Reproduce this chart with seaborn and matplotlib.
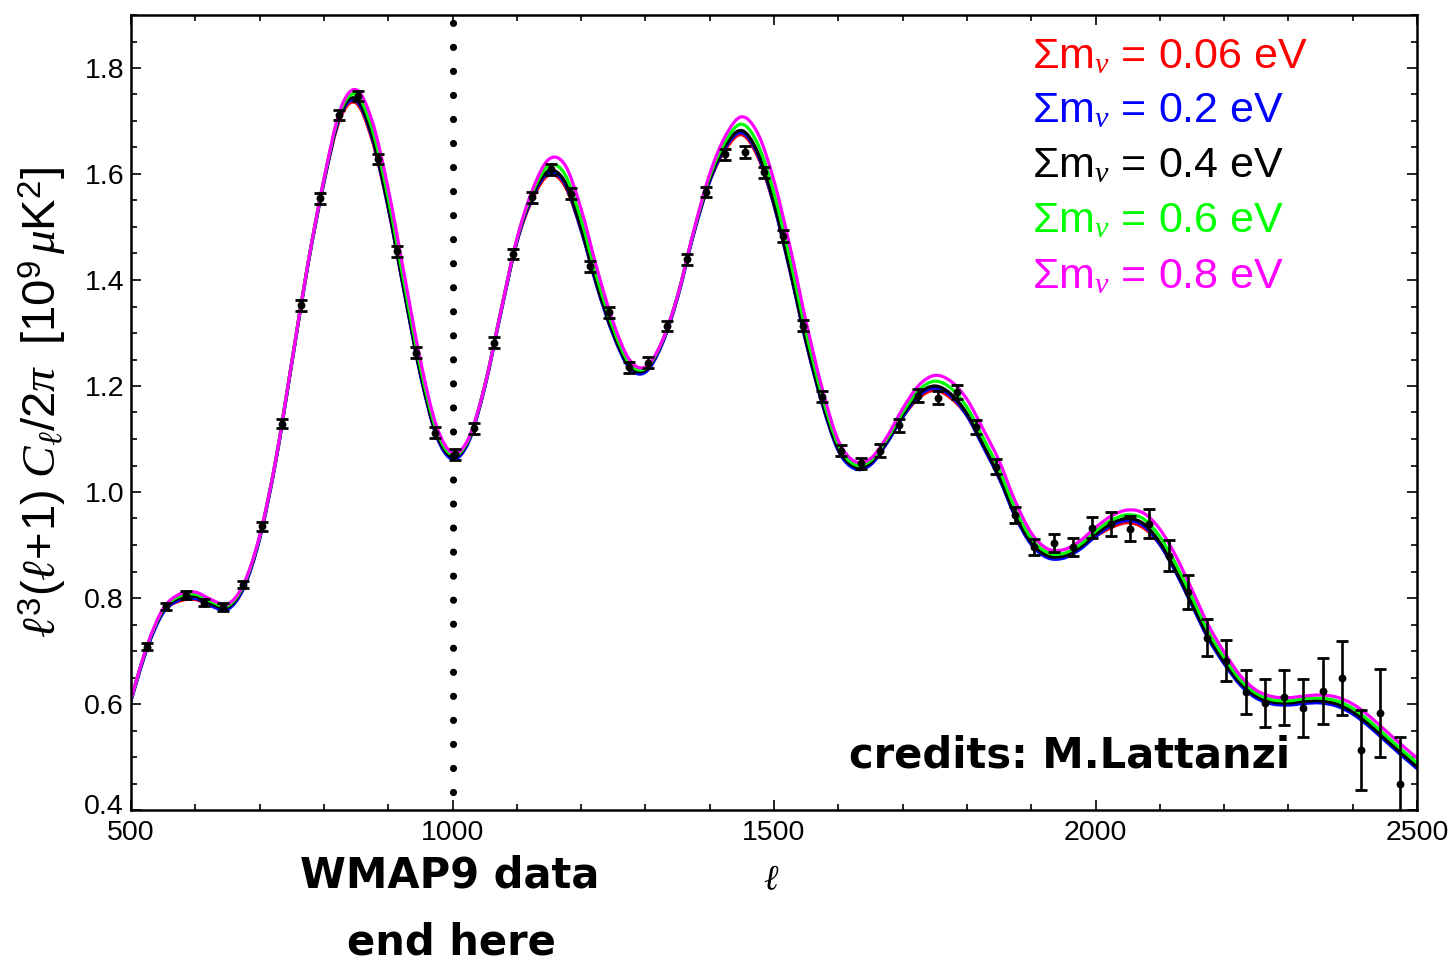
import numpy as np
import matplotlib
matplotlib.use("Agg")
import matplotlib.pyplot as plt
from matplotlib.path import Path
from matplotlib.patches import PathPatch
from matplotlib.ticker import MultipleLocator
from matplotlib.transforms import ScaledTranslation
import seaborn as sns

# ---------------- data ----------------
ell_grid = list(range(500, 2501, 25))

cl_006 = [0.608, 0.706, 0.774, 0.794, 0.797, 0.785, 0.780, 0.820, 0.913, 1.058,
          1.243, 1.428, 1.584, 1.704, 1.734, 1.664, 1.536, 1.378, 1.223, 1.108,
          1.064, 1.096, 1.198, 1.338, 1.471, 1.554, 1.598, 1.577, 1.494, 1.388,
          1.298, 1.236, 1.228, 1.278, 1.368, 1.488, 1.586, 1.647, 1.674, 1.632,
          1.541, 1.418, 1.283, 1.168, 1.080, 1.046, 1.053, 1.093, 1.141, 1.177,
          1.192, 1.177, 1.144, 1.088, 1.028, 0.956, 0.903, 0.878, 0.877, 0.893,
          0.916, 0.933, 0.942, 0.932, 0.901, 0.850, 0.788, 0.726, 0.678, 0.638,
          0.613, 0.602, 0.600, 0.603, 0.604, 0.598, 0.583, 0.560, 0.533, 0.506,
          0.480]

cl_02 = [0.606, 0.704, 0.772, 0.796, 0.799, 0.785, 0.778, 0.818, 0.911, 1.056,
         1.241, 1.426, 1.584, 1.708, 1.738, 1.668, 1.536, 1.376, 1.221, 1.106,
         1.062, 1.094, 1.196, 1.336, 1.471, 1.558, 1.602, 1.581, 1.494, 1.386,
         1.296, 1.234, 1.226, 1.276, 1.366, 1.486, 1.586, 1.651, 1.678, 1.636,
         1.541, 1.416, 1.281, 1.166, 1.078, 1.044, 1.051, 1.091, 1.141, 1.181,
         1.196, 1.181, 1.144, 1.086, 1.026, 0.954, 0.901, 0.876, 0.875, 0.891,
         0.916, 0.937, 0.946, 0.936, 0.901, 0.848, 0.786, 0.724, 0.676, 0.636,
         0.611, 0.600, 0.598, 0.601, 0.602, 0.596, 0.581, 0.558, 0.531, 0.504,
         0.478]

cl_04 = [0.610, 0.708, 0.776, 0.800, 0.803, 0.789, 0.782, 0.822, 0.915, 1.060,
         1.245, 1.430, 1.588, 1.712, 1.742, 1.672, 1.540, 1.380, 1.225, 1.110,
         1.066, 1.098, 1.200, 1.340, 1.475, 1.562, 1.606, 1.585, 1.498, 1.390,
         1.300, 1.238, 1.230, 1.280, 1.370, 1.490, 1.590, 1.655, 1.682, 1.640,
         1.545, 1.420, 1.285, 1.170, 1.082, 1.048, 1.055, 1.095, 1.145, 1.185,
         1.200, 1.185, 1.148, 1.090, 1.030, 0.958, 0.905, 0.880, 0.879, 0.895,
         0.920, 0.941, 0.950, 0.940, 0.905, 0.852, 0.790, 0.728, 0.680, 0.640,
         0.615, 0.604, 0.602, 0.605, 0.606, 0.600, 0.585, 0.562, 0.535, 0.508,
         0.482]

cl_06 = [0.610, 0.709, 0.778, 0.803, 0.807, 0.793, 0.785, 0.824, 0.916, 1.060,
         1.245, 1.430, 1.589, 1.716, 1.750, 1.685, 1.555, 1.393, 1.236, 1.117,
         1.070, 1.099, 1.200, 1.340, 1.476, 1.567, 1.616, 1.599, 1.514, 1.403,
         1.309, 1.243, 1.233, 1.281, 1.370, 1.491, 1.595, 1.663, 1.694, 1.656,
         1.564, 1.439, 1.301, 1.181, 1.089, 1.052, 1.059, 1.099, 1.150, 1.192,
         1.209, 1.196, 1.160, 1.103, 1.043, 0.969, 0.913, 0.886, 0.884, 0.900,
         0.926, 0.947, 0.957, 0.949, 0.916, 0.864, 0.802, 0.738, 0.688, 0.646,
         0.620, 0.608, 0.606, 0.610, 0.611, 0.606, 0.592, 0.569, 0.542, 0.515,
         0.489]

cl_08 = [0.610, 0.710, 0.780, 0.807, 0.811, 0.797, 0.788, 0.826, 0.917, 1.060,
         1.245, 1.430, 1.590, 1.720, 1.759, 1.700, 1.572, 1.410, 1.249, 1.125,
         1.074, 1.101, 1.200, 1.340, 1.477, 1.572, 1.628, 1.617, 1.534, 1.420,
         1.320, 1.250, 1.236, 1.282, 1.370, 1.492, 1.600, 1.673, 1.708, 1.676,
         1.587, 1.462, 1.321, 1.195, 1.097, 1.058, 1.063, 1.103, 1.157, 1.201,
         1.220, 1.209, 1.175, 1.119, 1.059, 0.983, 0.923, 0.893, 0.891, 0.907,
         0.933, 0.955, 0.966, 0.960, 0.930, 0.879, 0.816, 0.750, 0.698, 0.654,
         0.626, 0.614, 0.612, 0.615, 0.617, 0.613, 0.600, 0.578, 0.551, 0.524,
         0.498]

series_labels = ["0.06", "0.2", "0.4", "0.6", "0.8"]
series_colors = ["#ff0000", "#0000ff", "#000000", "#00ff00", "#ff00ff"]
series_values = [cl_006, cl_02, cl_04, cl_06, cl_08]

data_ell = [525, 554, 586, 614, 643, 674, 704, 735, 764, 794,
            823, 853, 884, 914, 943, 973, 1004, 1033, 1065, 1094,
            1124, 1153, 1184, 1214, 1243, 1274, 1304, 1334, 1365, 1394,
            1424, 1455, 1484, 1514, 1545, 1575, 1604, 1635, 1665, 1694,
            1724, 1755, 1785, 1814, 1845, 1875, 1904, 1935, 1965, 1994,
            2024, 2054, 2083, 2114, 2144, 2173, 2203, 2234, 2264, 2293,
            2323, 2354, 2383, 2413, 2442, 2474]
data_val = [0.708, 0.784, 0.806, 0.791, 0.783, 0.825, 0.935, 1.129, 1.352, 1.554,
            1.711, 1.747, 1.628, 1.454, 1.263, 1.112, 1.071, 1.120, 1.282, 1.449,
            1.556, 1.609, 1.563, 1.426, 1.339, 1.235, 1.244, 1.313, 1.439, 1.566,
            1.637, 1.641, 1.603, 1.483, 1.314, 1.180, 1.078, 1.054, 1.078, 1.126,
            1.182, 1.178, 1.188, 1.122, 1.048, 0.957, 0.897, 0.904, 0.897, 0.933,
            0.940, 0.931, 0.940, 0.880, 0.812, 0.725, 0.682, 0.623, 0.602, 0.613,
            0.593, 0.625, 0.649, 0.513, 0.583, 0.449]
data_err = [0.007, 0.007, 0.007, 0.007, 0.007, 0.007, 0.009, 0.009, 0.010, 0.010,
            0.010, 0.010, 0.010, 0.010, 0.010, 0.010, 0.010, 0.010, 0.010, 0.010,
            0.010, 0.010, 0.010, 0.010, 0.010, 0.010, 0.010, 0.010, 0.010, 0.010,
            0.011, 0.011, 0.011, 0.011, 0.011, 0.011, 0.011, 0.011, 0.012, 0.012,
            0.012, 0.012, 0.013, 0.013, 0.014, 0.015, 0.015, 0.017, 0.017, 0.020,
            0.023, 0.024, 0.027, 0.029, 0.032, 0.035, 0.038, 0.041, 0.046, 0.052,
            0.055, 0.062, 0.069, 0.076, 0.083, 0.088]

wmap_end = 1000
x_ticks = [500, 1000, 1500, 2000, 2500]
y_ticks = [0.4, 0.6, 0.8, 1.0, 1.2, 1.4, 1.6, 1.8]

# ---------------- style ----------------
sns.set_theme(style="ticks")
plt.rcParams["font.family"] = ["Liberation Sans", "DejaVu Sans"]
plt.rcParams["mathtext.fontset"] = "custom"
plt.rcParams["mathtext.rm"] = "Liberation Sans"
plt.rcParams["mathtext.it"] = "Liberation Serif:italic"
plt.rcParams["mathtext.bf"] = "Liberation Sans:bold"

fig = plt.figure(figsize=(14.49, 9.63), dpi=100)
ax = fig.add_axes([131 / 1449, 1 - 810 / 963, (1417 - 131) / 1449, (810 - 15) / 963])


def smooth_curve(ax, xs, ys, color, lw):
    xs = np.asarray(xs, float)
    ys = np.asarray(ys, float)
    n = len(xs)
    verts = [(xs[0], ys[0])]
    codes = [Path.MOVETO]
    for i in range(n - 1):
        a = i - 1 if i > 0 else i
        d = i + 2 if i + 2 < n else i + 1
        c1 = (xs[i] + (xs[i + 1] - xs[a]) / 6, ys[i] + (ys[i + 1] - ys[a]) / 6)
        c2 = (xs[i + 1] - (xs[d] - xs[i]) / 6, ys[i + 1] - (ys[d] - ys[i]) / 6)
        verts += [c1, c2, (xs[i + 1], ys[i + 1])]
        codes += [Path.CURVE4] * 3
    patch = PathPatch(Path(verts, codes), fill=False, edgecolor=color, lw=lw,
                      capstyle="round", joinstyle="round", zorder=2)
    ax.add_patch(patch)


for vals, col in zip(series_values, series_colors):
    smooth_curve(ax, ell_grid, vals, col, 2.3)

# data points with error bars
ax.errorbar(data_ell, data_val, yerr=data_err, fmt="none", ecolor="black",
            elinewidth=1.9, capsize=4.3, capthick=2.0, zorder=4)
sns.scatterplot(x=data_ell, y=data_val, color="black", s=32, edgecolor="black",
                linewidth=0, ax=ax, zorder=5)

# dotted line marking end of WMAP9 data
ax.plot([wmap_end, wmap_end], [0.434, 1.887], color="black", lw=5.2,
        linestyle=(0, (0.001, 3.327)), dash_capstyle="round", zorder=3)

ax.set_xlim(500, 2500)
ax.set_ylim(0.4, 1.9)
ax.set_xticks(x_ticks)
ax.set_xticklabels([str(t) for t in x_ticks])
ax.set_yticks(y_ticks)
ax.set_yticklabels([f"{t:.1f}" for t in y_ticks])
ax.xaxis.set_minor_locator(MultipleLocator(100))
ax.yaxis.set_minor_locator(MultipleLocator(0.05))
ax.tick_params(which="both", direction="in", top=True, right=True,
               colors="black", labelsize=20.5, width=1.2)
ax.tick_params(which="major", length=7.5)
ax.tick_params(axis="x", which="major", pad=7)
ax.tick_params(axis="y", which="major", pad=5)
ax.tick_params(which="minor", length=4.5)
for sp in ax.spines.values():
    sp.set_linewidth(1.8)
    sp.set_color("black")
ax.set_xlabel("")
ax.set_ylabel("")

# lift the corner "0.4" label a little so it clears "500", as in the reference
lab0 = ax.yaxis.get_major_ticks()[0].label1
lab0.set_transform(lab0.get_transform() + ScaledTranslation(0, 4 / 72, fig.dpi_scale_trans))

# legend-like coloured labels
base_y = [1.7997, 1.6977, 1.5944, 1.4905, 1.3847]
for lab, col, yb in zip(series_labels, series_colors, base_y):
    ax.text(1901, yb, "\u03a3m$_{\\nu}$ = " + lab + " eV", color=col,
            fontsize=31, ha="left", va="baseline", zorder=6)

# axis labels
fig.text(43 / 1449, 1 - 402 / 963,
         r"$\ell^3(\ell\!+\!1)\ C_\ell/2\pi\ \ [10^9\,\mu\mathrm{K}^2]$",
         rotation=90, ha="center", va="center", fontsize=34, color="black")
fig.text(771 / 1449, 1 - 880 / 963, r"$\ell$", ha="center", va="center",
         fontsize=25, color="black")

hand = dict(family=["DejaVu Sans"], weight="bold", color="black")
fig.text(450 / 1449, 1 - 875 / 963, "WMAP9 data", ha="center", va="center",
         fontsize=30, **hand)
fig.text(451 / 1449, 1 - 942 / 963, "end here", ha="center", va="center",
         fontsize=30, **hand)
fig.text(1070 / 1449, 1 - 755 / 963, "credits: M.Lattanzi", ha="center",
         va="center", fontsize=30, **hand)

fig.savefig("out.png", dpi=100)
